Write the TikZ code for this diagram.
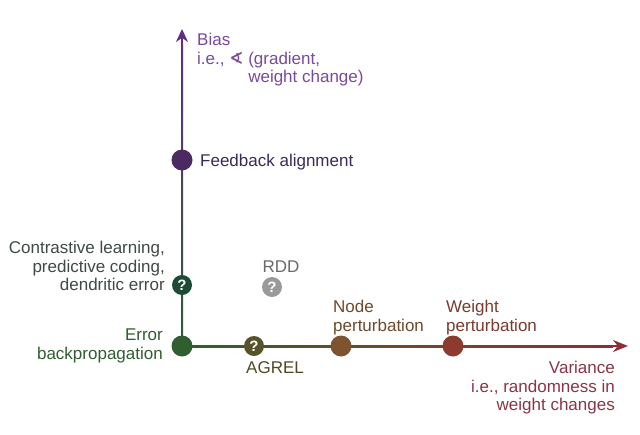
\documentclass[tikz,border=0pt]{standalone}
\usepackage{fontspec}
\setmainfont{Liberation Sans}
\newfontfamily\symfont{DejaVu Sans}
\usetikzlibrary{arrows.meta}
\definecolor{axpurple}{HTML}{5E2F82}
\definecolor{axgreen}{HTML}{2F5E30}
\definecolor{axred}{HTML}{8B2F38}
\definecolor{axmid}{HTML}{6E4A2E}
\definecolor{fadot}{HTML}{4B2A63}
\definecolor{qgreen}{HTML}{1D4A33}
\definecolor{ebdot}{HTML}{2F5E30}
\definecolor{agdot}{HTML}{58532A}
\definecolor{rdddot}{HTML}{9A9A9A}
\definecolor{npdot}{HTML}{7D5330}
\definecolor{wpdot}{HTML}{8C3B2E}
\definecolor{biastext}{HTML}{7A4A9C}
\definecolor{fatext}{HTML}{3B2A55}
\definecolor{cltext}{HTML}{3F4A44}
\definecolor{rddtext}{HTML}{6A6A6A}
\definecolor{ebtext}{HTML}{2F5E30}
\definecolor{agtext}{HTML}{4E4A25}
\definecolor{nptext}{HTML}{6E4A2C}
\definecolor{wptext}{HTML}{7A3B2E}
\definecolor{vartext}{HTML}{8A3545}
\begin{document}
\begin{tikzpicture}[x=1pt,y=-1pt,
  txt/.style={font=\fontsize{17}{18.6}\selectfont, inner sep=0pt},
  dot/.style={circle, minimum size=21pt, inner sep=0pt},
  qdot/.style={dot, minimum size=20pt, text=white, font=\fontsize{15}{15}\selectfont\bfseries}]
\useasboundingbox[fill=white] (0,0) rectangle (640,434);
\coordinate (O) at (182,346);
\coordinate (Ytop) at (182,29);
\coordinate (Yend) at (182,44);
\coordinate (Xend) at (628,346);
\coordinate (Xstart) at (612,346);
% axes
\shade[bottom color=axgreen, top color=axpurple] (181,347) rectangle (183,44);
\draw[axpurple, line width=2pt, -{Stealth[length=13pt,width=12pt]}] (Yend) -- (Ytop);
\shade[left color=axgreen, right color=axred, middle color=axmid] (182,345) rectangle (613,347);
\draw[axred, line width=2pt, -{Stealth[length=15pt,width=12pt]}] (Xstart) -- (Xend);
% dots
\node[dot, fill=fadot] (fa) at (182,160) {};
\node[qdot, fill=qgreen] (cl) at (182,285) {?};
\node[dot, fill=ebdot] (eb) at (182,346) {};
\node[qdot, fill=agdot] (ag) at (254,346) {?};
\node[qdot, fill=rdddot] (rdd) at (272,287) {?};
\node[dot, fill=npdot] (np) at (341,346) {};
\node[dot, fill=wpdot] (wp) at (453,346) {};
% labels
\node[txt, text=biastext, anchor=north west, align=left] (biasl) at (197,33)
  {Bias\\i.e., {\symfont\bfseries ∢} (gradient,\\\phantom{i.e., {\symfont\bfseries ∢} }weight change)};
\node[txt, text=fatext, anchor=base west] (fal) at (200,166) {Feedback alignment};
\node[txt, text=cltext, anchor=north east, align=right] (cll) at (165,241)
  {Contrastive learning,\\predictive coding,\\dendritic error};
\node[txt, text=rddtext, anchor=base] (rddl) at (281,272) {RDD};
\node[txt, text=ebtext, anchor=north east, align=right] (ebl) at (163,329)
  {Error\\backpropagation};
\node[txt, text=agtext, anchor=base] (agl) at (275,373) {AGREL};
\node[txt, text=nptext, anchor=north west, align=left] (npl) at (333,300)
  {Node\\perturbation};
\node[txt, text=wptext, anchor=north west, align=left] (wpl) at (446,300)
  {Weight\\perturbation};
\node[txt, text=vartext, anchor=north east, align=right] (varl) at (615,361)
  {Variance\\i.e., randomness in\\weight changes};
\end{tikzpicture}
\end{document}
